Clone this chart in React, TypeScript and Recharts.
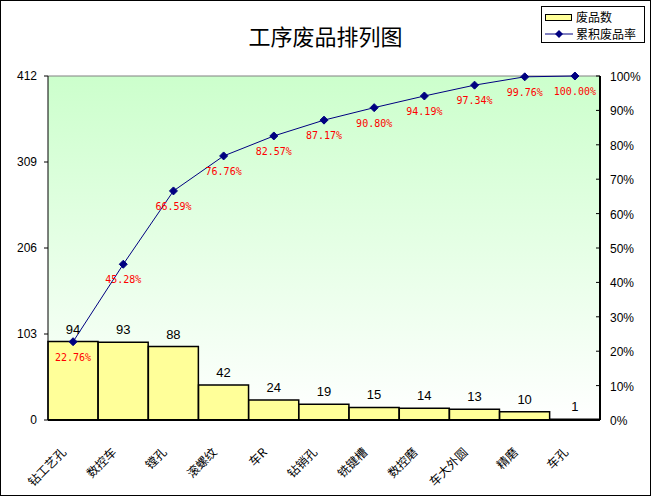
import React from 'react';
import {
  ComposedChart, Bar, Line, XAxis, YAxis, LabelList, CartesianGrid, ReferenceLine,
} from 'recharts';

const categories = ['钻工艺孔', '数控车', '镗孔', '滚螺纹', '车R', '钻销孔', '铣键槽', '数控磨', '车大外圆', '精磨', '车孔'];
const defects = [94, 93, 88, 42, 24, 19, 15, 14, 13, 10, 1];
const cumRates = [0.2276, 0.4528, 0.6659, 0.7676, 0.8257, 0.8717, 0.908, 0.9419, 0.9734, 0.9976, 1.0];
const leftTicks = [0, 103, 206, 309, 412];
const rightTicks = [0, 0.1, 0.2, 0.3, 0.4, 0.5, 0.6, 0.7, 0.8, 0.9, 1.0];
const titleText = '工序废品排列图';
const legendBar = '废品数';
const legendLine = '累积废品率';

const data = categories.map((name, i) => ({ name, count: defects[i], rate: cumRates[i] }));

const FONT = '"Liberation Sans", Arial, sans-serif';
const CJK = '"Noto Sans CJK SC", sans-serif';

const XTick = (props: any) => {
  const { x, y, payload } = props;
  return (
    <g transform={`translate(${x - 6},${y + 25})`}>
      <text transform="rotate(-45)" textAnchor="end" fontSize={12} fontFamily={CJK} fill="#000">
        {payload.value}
      </text>
    </g>
  );
};

const LeftTick = (props: any) => {
  const { x, y, payload } = props;
  return (
    <text x={x} y={y} dy={4} textAnchor="end" fontSize={12} fontFamily={FONT} fill="#000">
      {payload.value}
    </text>
  );
};

const RightTick = (props: any) => {
  const { x, y, payload } = props;
  return (
    <g>
      <line x1={x - 14} x2={x - 10} y1={y} y2={y} stroke="#000" strokeWidth={1} />
      <text x={x} y={y} dy={5} textAnchor="start" fontSize={12} fontFamily={FONT} fill="#000">
        {`${Math.round(payload.value * 100)}%`}
      </text>
    </g>
  );
};

const Diamond = (props: any) => {
  const { cx, cy } = props;
  if (cx == null || cy == null) return null;
  const r = 4;
  return (
    <path d={`M${cx},${cy - r} L${cx + r},${cy} L${cx},${cy + r} L${cx - r},${cy} Z`} fill="#000080" stroke="#000080" />
  );
};

const RateLabel = (props: any) => {
  const { x, y, value } = props;
  return (
    <text x={x} y={y + 19} textAnchor="middle" fontSize={10} fontFamily='"DejaVu Sans Mono", monospace' fill="#ff0000">
      {`${(value * 100).toFixed(2)}%`}
    </text>
  );
};

export default function App() {
  return (
    <div style={{ position: 'absolute', left: 0, top: 0, width: 651, height: 496, background: '#fff' }}>
      <ComposedChart
        width={651}
        height={496}
        data={data}
        margin={{ top: 76, right: 0, bottom: 0, left: 0 }}
        barCategoryGap={0}
        barGap={0}
        style={{ fontFamily: FONT }}
      >
        <defs>
          <linearGradient id="plotBg" x1="0" y1="0" x2="0" y2="1">
            <stop offset="0%" stopColor="#ccffcc" />
            <stop offset="100%" stopColor="#ffffff" />
          </linearGradient>
        </defs>
        <CartesianGrid fill="url(#plotBg)" horizontal={false} vertical={false} yAxisId="left" />
        <XAxis
          dataKey="name"
          height={76}
          tick={<XTick />}
          tickLine={false}
          axisLine={{ stroke: '#000', strokeWidth: 2 }}
          interval={0}
        />
        <YAxis
          yAxisId="left"
          orientation="left"
          width={48}
          domain={[0, 412]}
          ticks={leftTicks}
          tick={<LeftTick />}
          tickSize={4}
          tickMargin={7}
          tickLine={{ stroke: '#000' }}
          axisLine={{ stroke: '#000' }}
          allowDataOverflow
        />
        <YAxis
          yAxisId="right"
          orientation="right"
          width={51}
          domain={[0, 1]}
          ticks={rightTicks}
          tick={<RightTick />}
          tickSize={0}
          tickMargin={10}
          tickLine={false}
          axisLine={{ stroke: '#000', strokeWidth: 2 }}
        />
        <ReferenceLine yAxisId="left" y={412} stroke="#808080" strokeWidth={1} />
        <Bar yAxisId="left" dataKey="count" fill="#ffff99" stroke="#000" strokeWidth={1.5} isAnimationActive={false}>
          <LabelList dataKey="count" position="top" offset={8} fill="#000" fontSize={13} fontFamily={FONT} />
        </Bar>
        <Line
          yAxisId="right"
          dataKey="rate"
          type="linear"
          stroke="#000080"
          strokeWidth={1}
          dot={<Diamond />}
          activeDot={false}
          isAnimationActive={false}
        >
          <LabelList dataKey="rate" content={<RateLabel />} />
        </Line>
      </ComposedChart>

      <div
        style={{
          position: 'absolute', left: 0, top: 22, width: 651, textAlign: 'center',
          fontFamily: CJK, fontSize: 22, lineHeight: '26px', color: '#000',
        }}
      >
        {titleText}
      </div>

      <div
        style={{
          position: 'absolute', left: 541, top: 6, width: 104, height: 37, boxSizing: 'border-box',
          border: '1px solid #000', background: '#fff', fontFamily: CJK, fontSize: 12, color: '#000',
        }}
      >
        <div style={{ position: 'absolute', left: 3, top: 2, height: 15, display: 'flex', alignItems: 'center' }}>
          <svg width={28} height={10} style={{ display: 'block' }}>
            <rect x={0.5} y={2.5} width={26} height={6} fill="#ffff99" stroke="#000" />
          </svg>
          <span style={{ marginLeft: 3, lineHeight: '15px', whiteSpace: 'nowrap' }}>{legendBar}</span>
        </div>
        <div style={{ position: 'absolute', left: 3, top: 19, height: 15, display: 'flex', alignItems: 'center' }}>
          <svg width={28} height={10} style={{ display: 'block' }}>
            <line x1={0} x2={28} y1={5} y2={5} stroke="#000080" />
            <path d="M14,1 L18,5 L14,9 L10,5 Z" fill="#000080" />
          </svg>
          <span style={{ marginLeft: 3, lineHeight: '15px', whiteSpace: 'nowrap' }}>{legendLine}</span>
        </div>
      </div>

      <div
        style={{
          position: 'absolute', left: 0, top: 0, width: 651, height: 496, boxSizing: 'border-box',
          border: '1px solid #000', pointerEvents: 'none',
        }}
      />
    </div>
  );
}
